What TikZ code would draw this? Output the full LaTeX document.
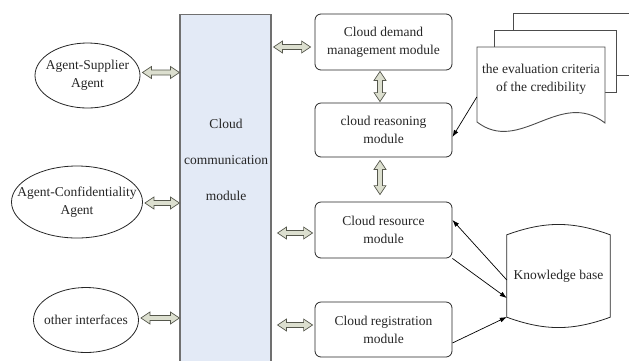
\documentclass[tikz,border=0pt]{standalone}
\usepackage{fontspec}
\setmainfont{Liberation Serif}
\usetikzlibrary{calc,arrows.meta,shapes.geometric}

\definecolor{commfill}{HTML}{E3EAF6}
\definecolor{commline}{HTML}{707070}
\definecolor{fatfill}{HTML}{DCDFCF}
\definecolor{fatline}{HTML}{55574C}
\definecolor{ink}{HTML}{262626}

% hollow double-headed block arrows, horizontal and vertical
\newcommand\fatharrow[2]{%
  \draw[fatarrow] let \p1=(#1), \p2=(#2) in
    (\x1,\y1) -- (\x1+9pt,\y1+6pt) -- (\x1+9pt,\y1+2.5pt) -- (\x2-9pt,\y1+2.5pt)
    -- (\x2-9pt,\y1+6pt) -- (\x2,\y1) -- (\x2-9pt,\y1-6pt) -- (\x2-9pt,\y1-2.5pt)
    -- (\x1+9pt,\y1-2.5pt) -- (\x1+9pt,\y1-6pt) -- cycle;}
\newcommand\fatvarrow[2]{%
  \draw[fatarrow] let \p1=(#1), \p2=(#2) in
    (\x1,\y1) -- (\x1+6pt,\y1-9pt) -- (\x1+2.5pt,\y1-9pt) -- (\x1+2.5pt,\y2+9pt)
    -- (\x1+6pt,\y2+9pt) -- (\x1,\y2) -- (\x1-6pt,\y2+9pt) -- (\x1-2.5pt,\y2+9pt)
    -- (\x1-2.5pt,\y1-9pt) -- (\x1-6pt,\y1-9pt) -- cycle;}

\begin{document}
\begin{tikzpicture}[x=1pt,y=-1pt,
  every node/.style={font=\fontsize{13.5}{18}\selectfont, text=ink},
  agent/.style={ellipse, draw=ink, line width=0.8pt, inner sep=0pt},
  agenttext/.style={align=center, inner sep=0pt},
  module/.style={rectangle, rounded corners=6pt, draw=ink, line width=0.8pt,
    minimum width=137, minimum height=55, inner sep=0pt, align=center},
  commbox/.style={rectangle, draw=commline, fill=commfill, line width=1.1pt,
    minimum width=91, minimum height=360, inner sep=0pt},
  fatarrow/.style={draw=fatline, fill=fatfill, line width=0.7pt, line join=miter},
  link/.style={draw=black, line width=0.7pt, -{Latex[length=7pt,width=5pt]}},
  page/.style={draw=black!70, fill=white, line width=0.9pt}]

\useasboundingbox (0,0) rectangle (629,360);

% communication column
\node[commbox, anchor=north] (ccm) at (225.5,14) {};
\node[align=center, font=\fontsize{13.5}{36}\selectfont] (ccmtext) at (226,160)
  {Cloud\\communication\\module};

% external agents (outline sized independently of the wording)
\node[agent, minimum width=105, minimum height=65,
  label={[agenttext]center:{Agent-Supplier\\Agent}}] (as) at (87.5,75.5) {};
\node[agent, minimum width=131, minimum height=72,
  label={[agenttext]center:{Agent-Confidentiality\\Agent}}] (ac) at (77,202) {};
\node[agent, minimum width=105, minimum height=65,
  label={[agenttext]center:{other interfaces}}] (oi) at (86,320) {};

% cloud modules
\node[module, minimum height=56] (dm) at (383.5,42)
  {Cloud demand\\management module};
\node[module, minimum height=54] (cr) at (383.5,130)
  {cloud reasoning\\module};
\node[module, minimum height=56] (rs) at (383.5,230)
  {Cloud resource\\module};
\node[module, minimum height=55] (rg) at (383.5,329.5)
  {Cloud registration\\module};

% knowledge base drum
\node[minimum width=103, minimum height=82, inner sep=0pt] (kb) at (558.5,276)
  {Knowledge base};
\draw[draw=ink, line width=0.8pt]
  (kb.north west) to[bend left=20] (kb.north east) -- (kb.south east)
  to[bend left=20] (kb.south west) -- cycle;

% stack of criteria documents
\draw[page] (513,13) rectangle (660,75);
\draw[page] (494,30) rectangle (616,92);
\draw[page] (477,47) -- (605,47) -- (605,123)
  .. controls (560,88) and (520,155) .. (477,122) -- cycle;
\node[align=center, minimum width=128, inner sep=0pt] (doc) at (541,79)
  {the evaluation criteria\\of the credibility};

% block arrows to and from the communication column
\fatharrow{$(as.east)+(2,-3)$}{ccm.west |- 0,72}
\fatharrow{$(ac.east)+(2,1)$}{ccm.west |- 0,203}
\fatharrow{$(oi.east)+(2,-2)$}{ccm.west |- 0,318}
\fatharrow{$(ccm.east |- 0,47)+(2,0)$}{$(dm.west)+(-4,5)$}
\fatharrow{$(ccm.east |- 0,233)+(6,0)$}{$(rs.west)+(-2,3)$}
\fatharrow{$(ccm.east |- 0,325)+(6,0)$}{$(rg.west)+(-2,-4.5)$}

% block arrows between modules
\fatvarrow{$(dm.south)+(-3.5,1)$}{$(cr.north)+(-3.5,-1)$}
\fatvarrow{$(cr.south)+(-3.5,3)$}{$(rs.north)+(-3.5,-7)$}

% data links
\draw[link] ($(doc.west)+(0,18)$) -- ($(cr.east)+(0,7)$);
\draw[link] ($(kb.west)+(0,4)$) -- ($(rs.east)+(0,-10)$);
\draw[link] (rs.south east) -- ($(kb.west)+(0,22)$);
\draw[link] ($(rg.east)+(0,13.5)$) -- ($(kb.west)+(0,41)$);
\end{tikzpicture}
\end{document}
